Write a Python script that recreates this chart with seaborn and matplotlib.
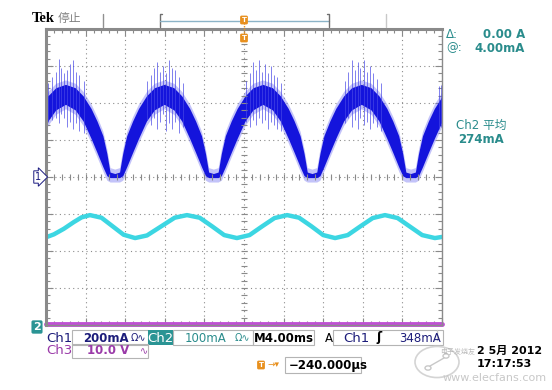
import numpy as np
import matplotlib
matplotlib.use("Agg")
import matplotlib.pyplot as plt
from matplotlib.patches import Rectangle, Circle
from matplotlib.lines import Line2D
from matplotlib.ticker import MultipleLocator
import seaborn as sns

# Ch1 : courant redresse, en divisions (centre ecran = 0)
# creux (zero) de chaque arche, y compris ceux hors ecran
valleys = [-0.74, 1.75, 4.24, 6.73, 9.22, 11.71]
arch_d = [0.0, 0.12, 0.2, 0.3, 0.45, 0.6, 0.8, 1.0, 1.245]
arch_top = [0.08, 0.12, 0.62, 1.10, 1.50, 1.84, 2.18, 2.40, 2.49]
arch_bot = [-0.03, -0.03, 0.02, 0.26, 0.65, 1.03, 1.50, 1.80, 1.95]

# pics de bruit sur les sommets
spike_x = [0.05, 0.15, 0.24, 0.33, 0.38, 0.45, 0.52, 0.60, 0.68, 0.75, 0.84, 0.95,
           2.55, 2.64, 2.72, 2.80, 2.88, 2.95, 3.02, 3.10, 3.18, 3.26, 3.35, 3.45,
           5.05, 5.14, 5.22, 5.30, 5.38, 5.45, 5.52, 5.60, 5.68, 5.76, 5.84, 5.94,
           7.55, 7.63, 7.72, 7.80, 7.87, 7.94, 8.02, 8.10, 8.18, 8.26, 8.35, 8.45,
           9.92, 9.97]
spike_top = [2.55, 2.70, 2.85, 3.20, 2.95, 2.80, 2.90, 3.05, 3.15, 2.85, 2.75, 2.60,
             2.60, 2.75, 2.95, 3.10, 2.85, 3.00, 2.80, 3.15, 2.95, 2.90, 2.70, 2.55,
             2.60, 2.80, 3.10, 2.90, 3.15, 2.85, 3.05, 2.80, 3.00, 2.75, 2.70, 2.55,
             2.60, 2.85, 3.15, 2.90, 3.10, 2.95, 3.15, 2.85, 3.00, 2.80, 2.65, 2.55,
             2.45, 2.50]
spike_bot = [1.50, 1.55, 1.60, 1.45, 1.70, 1.60, 1.35, 1.50, 1.30, 1.45, 1.25, 1.20,
             1.55, 1.40, 1.60, 1.30, 1.50, 1.70, 1.25, 1.45, 1.30, 1.50, 1.20, 1.35,
             1.50, 1.35, 1.55, 1.40, 1.60, 1.45, 1.55, 1.30, 1.50, 1.40, 1.30, 1.25,
             1.45, 1.60, 1.35, 1.55, 1.30, 1.60, 1.40, 1.50, 1.30, 1.45, 1.35, 1.25,
             1.30, 1.35]

# Ch2 : sinusoide cyan
cyan_x = [0.0, 0.2, 0.45, 0.7, 0.9, 1.11, 1.4, 1.68, 1.96, 2.25, 2.55, 2.9, 3.25, 3.56,
          3.88, 4.19, 4.5, 4.82, 5.14, 5.45, 5.77, 6.09, 6.39, 6.7, 7.0, 7.3,
          7.62, 7.93, 8.25, 8.56, 8.88, 9.19, 9.5, 9.82, 10.0]
cyan_y = [-1.63, -1.55, -1.40, -1.22, -1.09, -1.03, -1.10, -1.33, -1.56, -1.65, -1.58,
          -1.34, -1.10, -1.03, -1.10, -1.33, -1.57, -1.65, -1.57, -1.34, -1.11, -1.03,
          -1.10, -1.33, -1.57, -1.65, -1.57, -1.34, -1.11, -1.03, -1.11, -1.34, -1.57,
          -1.65, -1.62]

# Ch3 : niveau plat en bas d'ecran
ch3_x = [0.0, 10.0]
ch3_y = [-3.96, -3.96]

W, H = 552, 390


def fx(x):
    return x / W


def fy(y):
    return 1 - y / H


def box(fig, x0, y0, x1, y1, ec="#b4b4b4", fc="none", lw=0.8):
    fig.add_artist(Rectangle((fx(x0), fy(y1)), (x1 - x0) / W, (y1 - y0) / H,
                             transform=fig.transFigure, ec=ec, fc=fc, lw=lw))


def line(fig, xs, ys, **kw):
    fig.add_artist(Line2D([fx(v) for v in xs], [fy(v) for v in ys],
                          transform=fig.transFigure, **kw))


sns.set_theme(style="white")
plt.rcParams['font.family'] = ['DejaVu Sans', 'Noto Sans CJK SC']

fig = plt.figure(figsize=(W / 100, H / 100), dpi=100)
ax = fig.add_axes([46 / W, 65 / H, 396 / W, 296 / H])
ax.set_xlim(0, 10)
ax.set_ylim(-4, 4)

# grille de l'oscilloscope
ax.set_xticks(range(11))
ax.set_yticks(range(-4, 5))
ax.xaxis.set_minor_locator(MultipleLocator(0.2))
ax.yaxis.set_minor_locator(MultipleLocator(0.2))
ax.tick_params(which='both', direction='in', top=True, right=True, bottom=True, left=True,
               labelleft=False, labelbottom=False, color='#8a8a8a')
ax.tick_params(which='major', length=5, width=0.8)
ax.tick_params(which='minor', length=3, width=0.8)
ax.grid(True, which='major', color='#8c8c8c', lw=0.8, ls=(0, (1, 3)))
ax.set_axisbelow(True)
for side, spine in ax.spines.items():
    spine.set_color('#8a8a8a')
    spine.set_linewidth(2.2 if side in ('top', 'left') else 1.0)

center_ticks = np.arange(0, 10.01, 0.2)
ax.plot(center_ticks, np.zeros_like(center_ticks), '|', ms=4, color='#8a8a8a', mew=0.8)
vticks = np.arange(-4, 4.01, 0.2)
ax.plot(np.full_like(vticks, 5.0), vticks, '_', ms=4, color='#8a8a8a', mew=0.8)

# enveloppe Ch1 construite a partir du profil des arches
env = []
for v in valleys:
    for d, t, b in zip(arch_d[::-1], arch_top[::-1], arch_bot[::-1]):
        env.append((v - d, t, b))
    for d, t, b in zip(arch_d[1:], arch_top[1:], arch_bot[1:]):
        env.append((v + d, t, b))
env.sort()
env_x = np.array([e[0] for e in env])
env_top = np.array([e[1] for e in env])
env_bot = np.array([e[2] for e in env])

ax.fill_between(env_x, env_bot - 0.12, env_top + 0.12, color='#6a6af2', alpha=0.4, lw=0)
ax.vlines(spike_x, spike_bot, spike_top, color='#4646e6', lw=0.6, alpha=0.8)
ax.fill_between(env_x, env_bot, env_top, color='#1414dc', lw=0)

sns.lineplot(x=cyan_x, y=cyan_y, ax=ax, color='#3cd6e2', lw=3.2, sort=False)
sns.lineplot(x=ch3_x, y=ch3_y, ax=ax, color='#c050d4', lw=3.5, sort=False)
ax.lines[-1].set_clip_on(False)

# repere voies a gauche
fig.text(fx(38), fy(177), "1", fontsize=7, color='#1a1a80', ha='center', va='center',
         bbox=dict(boxstyle="rarrow,pad=0.12", fc='white', ec='#1a1a80', lw=0.7))
fig.text(fx(37), fy(327), "2", fontsize=8, color='white', fontweight='bold',
         ha='center', va='center',
         bbox=dict(boxstyle="round,pad=0.15", fc='#2a9494', ec='none'))

# en-tete
fig.text(fx(32), fy(18), "Tek", fontsize=10.5, fontweight='bold', color='black',
         family=['Liberation Serif'], va='center')
fig.text(fx(58), fy(18), "停止", fontsize=8.5, color='#808080', va='center')
line(fig, [103, 103], [14, 27], color='#909090', lw=1)
line(fig, [162, 160, 160], [14, 14, 27], color='#707070', lw=1)
line(fig, [160, 329], [20.5, 20.5], color='#8cb4c8', lw=1)
line(fig, [327, 329, 329], [14, 14, 27], color='#707070', lw=1)
line(fig, [386, 386], [14, 27], color='#c8c8c8', lw=1)
line(fig, [244, 244], [20, 38], color='#e8901e', lw=1, ls=(0, (1, 1)))
for yy in (20, 38):
    fig.text(fx(244), fy(yy), "T", fontsize=5, color='white', fontweight='bold',
             ha='center', va='center',
             bbox=dict(boxstyle="round,pad=0.2", fc='#e8901e', ec='none'))

# mesures a droite
teal = '#2a8c8c'
fig.text(fx(446), fy(35), "Δ:", fontsize=8.5, color=teal, va='center')
fig.text(fx(525), fy(35), "0.00 A", fontsize=8.5, color=teal, va='center', ha='right',
         fontweight='bold')
fig.text(fx(446), fy(48), "@:", fontsize=8.5, color=teal, va='center')
fig.text(fx(525), fy(48), "4.00mA", fontsize=8.5, color=teal, va='center', ha='right',
         fontweight='bold')
fig.text(fx(481), fy(125), "Ch2 平均", fontsize=8.5, color=teal, va='center', ha='center')
fig.text(fx(481), fy(139), "274mA", fontsize=8.5, color=teal, va='center', ha='center',
         fontweight='bold')

# ligne d'etat en bas
navy = '#1c1c7a'
purple = '#9a3aa8'
fig.text(fx(46), fy(338), "Ch1", fontsize=9.5, color=navy, va='center')
box(fig, 72, 330, 148, 345)
fig.text(fx(83), fy(338), "200mA", fontsize=8.5, color=navy, va='center', fontweight='bold')
fig.text(fx(131), fy(338), "Ω∿", fontsize=7, color=navy, va='center')
box(fig, 148, 330, 173, 345, ec='none', fc='#2a9494')
fig.text(fx(160.5), fy(338), "Ch2", fontsize=9.5, color='white', va='center', ha='center')
box(fig, 173, 330, 253, 345)
fig.text(fx(185), fy(338), "100mA", fontsize=8.5, color=teal, va='center')
fig.text(fx(235), fy(338), "Ω∿", fontsize=7, color=teal, va='center')
box(fig, 253, 330, 314, 345)
fig.text(fx(254), fy(338), "M4.00ms", fontsize=8.5, color='black', va='center',
         fontweight='bold')
fig.text(fx(325), fy(338), "A", fontsize=8.5, color='black', va='center')
box(fig, 333, 330, 443, 345)
fig.text(fx(343), fy(338), "Ch1", fontsize=9.5, color=navy, va='center')
fig.text(fx(376), fy(338), "ʃ", fontsize=9, color='black', va='center', fontweight='bold')
fig.text(fx(441), fy(338), "348mA", fontsize=8.5, color=navy, va='center', ha='right')

fig.text(fx(46), fy(351), "Ch3", fontsize=9.5, color=purple, va='center')
box(fig, 72, 344, 148, 358)
fig.text(fx(87), fy(351), "10.0 V", fontsize=8.5, color=purple, va='center',
         fontweight='bold')
fig.text(fx(140), fy(351), "∿", fontsize=7, color=purple, va='center')

fig.text(fx(261), fy(365), "T", fontsize=5, color='white', fontweight='bold',
         ha='center', va='center',
         bbox=dict(boxstyle="round,pad=0.2", fc='#e8901e', ec='none'))
fig.text(fx(268), fy(365), "→▾", fontsize=6.5, color='#e8901e', va='center')
box(fig, 285, 357, 361, 373)
fig.text(fx(289), fy(365), "−240.000µs", fontsize=8.5, color='black', va='center',
         fontweight='bold')

# filigrane et horodatage
fig.add_artist(Circle((fx(437), fy(362)), 22 / W, transform=fig.transFigure,
                      fc='none', ec='#d4d4d4', lw=1.2))
fig.add_artist(Circle((fx(428), fy(368)), 3 / W, transform=fig.transFigure,
                      fc='none', ec='#c8c8c8', lw=1))
fig.add_artist(Circle((fx(446), fy(356)), 3 / W, transform=fig.transFigure,
                      fc='none', ec='#c8c8c8', lw=1))
line(fig, [430, 444], [366, 358], color='#c8c8c8', lw=1)
line(fig, [437, 437], [340, 330], color='#c8c8c8', lw=1)
fig.text(fx(440), fy(351), "电子发烧友", fontsize=5, color='#a0a0a0', alpha=0.7,
         va='center')
fig.text(fx(542), fy(351), "2 5月 2012", fontsize=8, color='black', va='center',
         ha='right', fontweight='bold')
fig.text(fx(504), fy(364), "17:17:53", fontsize=8, color='black', va='center',
         ha='center', fontweight='bold')
fig.text(fx(495), fy(378), "www.elecfans.com", fontsize=8, color='#c8c8c8',
         va='center', ha='center')

fig.savefig("out.png", dpi=100)
